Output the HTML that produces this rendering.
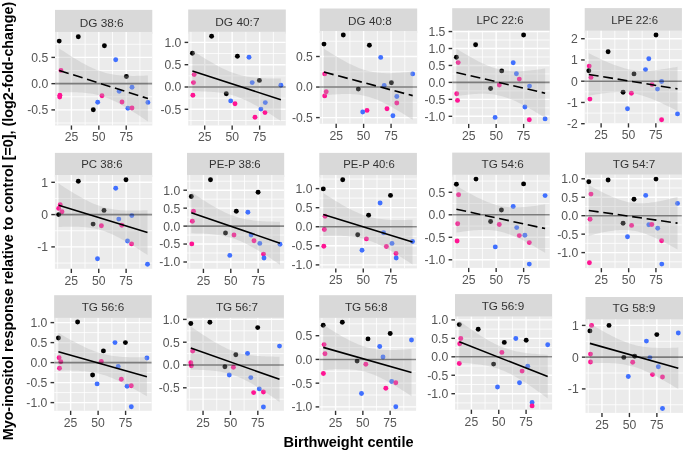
<!DOCTYPE html>
<html><head><meta charset="utf-8"><style>
html,body{margin:0;padding:0;background:#fff;}
body{width:685px;height:451px;overflow:hidden;}
svg{display:block;will-change:transform;}
text{font-family:"Liberation Sans",sans-serif;}
.st{font-size:11.7px;fill:#333333;text-anchor:middle;}
.yl{font-size:12.2px;fill:#555555;text-anchor:end;}
.xl{font-size:12.2px;fill:#555555;text-anchor:middle;}
.xt{font-size:14px;font-weight:bold;fill:#000;text-anchor:middle;}
.yt{font-size:14px;font-weight:bold;fill:#000;text-anchor:middle;}
.gm{stroke:#FFFFFF;stroke-width:0.8;}
.gM{stroke:#FFFFFF;stroke-width:1.4;}
.hl{stroke:#000;stroke-opacity:0.46;stroke-width:1.6;}
.band{fill:#B0B0B0;fill-opacity:0.32;}
.rl{stroke:#000;stroke-width:1.6;fill:none;}
.dash{stroke-dasharray:9.9 4.7;}
.tk{stroke:#333333;stroke-width:1.4;}
</style></head><body>
<svg width="685" height="451" viewBox="0 0 685 451">
<rect width="685" height="451" fill="#FFFFFF"/>
<defs><clipPath id="c0"><rect x="55" y="31.9" width="97.3" height="93.6"/></clipPath></defs>
<rect x="55" y="9.9" width="97.3" height="24" fill="#D9D9D9"/>
<text x="101.7" y="26.6" class="st" textLength="44" lengthAdjust="spacingAndGlyphs">DG 38:6</text>
<rect x="55" y="31.9" width="97.3" height="93.6" fill="#EBEBEB"/>
<g clip-path="url(#c0)">
<line x1="55" x2="152.3" y1="123.03" y2="123.03" class="gm"/>
<line x1="55" x2="152.3" y1="96.78" y2="96.78" class="gm"/>
<line x1="55" x2="152.3" y1="70.53" y2="70.53" class="gm"/>
<line x1="55" x2="152.3" y1="44.27" y2="44.27" class="gm"/>
<line x1="57.74" x2="57.74" y1="31.9" y2="125.5" class="gm"/>
<line x1="85.13" x2="85.13" y1="31.9" y2="125.5" class="gm"/>
<line x1="112.53" x2="112.53" y1="31.9" y2="125.5" class="gm"/>
<line x1="139.92" x2="139.92" y1="31.9" y2="125.5" class="gm"/>
<line x1="55" x2="152.3" y1="57.4" y2="57.4" class="gM"/>
<line x1="55" x2="152.3" y1="83.65" y2="83.65" class="gM"/>
<line x1="55" x2="152.3" y1="109.9" y2="109.9" class="gM"/>
<line x1="71.44" x2="71.44" y1="31.9" y2="125.5" class="gM"/>
<line x1="98.83" x2="98.83" y1="31.9" y2="125.5" class="gM"/>
<line x1="126.22" x2="126.22" y1="31.9" y2="125.5" class="gM"/>
<circle cx="59.2" cy="41.1" r="2.45" fill="#000000"/>
<circle cx="78.3" cy="36.7" r="2.45" fill="#000000"/>
<circle cx="104.4" cy="45.7" r="2.45" fill="#000000"/>
<circle cx="115.7" cy="59.8" r="2.45" fill="#4070FF"/>
<circle cx="61" cy="70.4" r="2.45" fill="#FF1493"/>
<circle cx="126.4" cy="76.5" r="2.45" fill="#000000"/>
<circle cx="132" cy="87.2" r="2.45" fill="#4070FF"/>
<circle cx="119.2" cy="91.3" r="2.45" fill="#4070FF"/>
<circle cx="59.9" cy="95.2" r="2.45" fill="#FF1493"/>
<circle cx="59.7" cy="97" r="2.45" fill="#FF1493"/>
<circle cx="102" cy="95.7" r="2.45" fill="#FF1493"/>
<circle cx="97.7" cy="102.2" r="2.45" fill="#4070FF"/>
<circle cx="122" cy="102" r="2.45" fill="#FF1493"/>
<circle cx="147.9" cy="102.4" r="2.45" fill="#4070FF"/>
<circle cx="93.3" cy="109.8" r="2.45" fill="#000000"/>
<circle cx="127.9" cy="108.3" r="2.45" fill="#4070FF"/>
<circle cx="132" cy="108" r="2.45" fill="#FF1493"/>
<polygon points="59.2,48.4 61.42,49.89 63.64,51.36 65.85,52.81 68.07,54.25 70.29,55.67 72.51,57.07 74.72,58.44 76.94,59.79 79.16,61.1 81.38,62.38 83.59,63.62 85.81,64.82 88.03,65.97 90.25,67.07 92.46,68.11 94.68,69.08 96.9,70 99.12,70.84 101.33,71.61 103.55,72.3 105.77,72.92 107.99,73.47 110.2,73.95 112.42,74.37 114.64,74.72 116.86,75.02 119.07,75.26 121.29,75.46 123.51,75.61 125.73,75.73 127.94,75.81 130.16,75.86 132.38,75.89 134.6,75.89 136.81,75.87 139.03,75.83 141.25,75.77 143.47,75.7 145.68,75.62 147.9,75.52 147.9,121.48 145.68,119.98 143.47,118.49 141.25,117.02 139.03,115.56 136.81,114.12 134.6,112.7 132.38,111.3 130.16,109.92 127.94,108.57 125.73,107.25 123.51,105.97 121.29,104.72 119.07,103.51 116.86,102.36 114.64,101.25 112.42,100.2 110.2,99.21 107.99,98.29 105.77,97.44 103.55,96.66 101.33,95.95 99.12,95.32 96.9,94.76 94.68,94.27 92.46,93.85 90.25,93.48 88.03,93.18 85.81,92.93 83.59,92.72 81.38,92.56 79.16,92.44 76.94,92.35 74.72,92.3 72.51,92.27 70.29,92.26 68.07,92.28 65.85,92.32 63.64,92.37 61.42,92.44 59.2,92.52" class="band"/>
<line x1="55" x2="152.3" y1="83.65" y2="83.65" class="hl"/>
<line x1="59.2" y1="70.46" x2="147.9" y2="98.5" class="rl dash"/>
</g>
<line x1="51.4" x2="55" y1="57.4" y2="57.4" class="tk"/>
<text x="48.2" y="61.8" class="yl">0.5</text>
<line x1="51.4" x2="55" y1="83.65" y2="83.65" class="tk"/>
<text x="48.2" y="88.05" class="yl">0.0</text>
<line x1="51.4" x2="55" y1="109.9" y2="109.9" class="tk"/>
<text x="48.2" y="114.3" class="yl">-0.5</text>
<line x1="71.44" x2="71.44" y1="125.5" y2="129.7" class="tk"/>
<text x="71.44" y="141.4" class="xl">25</text>
<line x1="98.83" x2="98.83" y1="125.5" y2="129.7" class="tk"/>
<text x="98.83" y="141.4" class="xl">50</text>
<line x1="126.22" x2="126.22" y1="125.5" y2="129.7" class="tk"/>
<text x="126.22" y="141.4" class="xl">75</text>
<defs><clipPath id="c1"><rect x="188.2" y="31.7" width="97.6" height="93.8"/></clipPath></defs>
<rect x="188.2" y="9.5" width="97.6" height="24.2" fill="#D9D9D9"/>
<text x="237.4" y="26.2" class="st" textLength="44.2" lengthAdjust="spacingAndGlyphs">DG 40:7</text>
<rect x="188.2" y="31.7" width="97.6" height="93.8" fill="#EBEBEB"/>
<g clip-path="url(#c1)">
<line x1="188.2" x2="285.8" y1="120.45" y2="120.45" class="gm"/>
<line x1="188.2" x2="285.8" y1="98.15" y2="98.15" class="gm"/>
<line x1="188.2" x2="285.8" y1="75.85" y2="75.85" class="gm"/>
<line x1="188.2" x2="285.8" y1="53.55" y2="53.55" class="gm"/>
<line x1="190.95" x2="190.95" y1="31.7" y2="125.5" class="gm"/>
<line x1="218.43" x2="218.43" y1="31.7" y2="125.5" class="gm"/>
<line x1="245.9" x2="245.9" y1="31.7" y2="125.5" class="gm"/>
<line x1="273.38" x2="273.38" y1="31.7" y2="125.5" class="gm"/>
<line x1="188.2" x2="285.8" y1="42.4" y2="42.4" class="gM"/>
<line x1="188.2" x2="285.8" y1="64.7" y2="64.7" class="gM"/>
<line x1="188.2" x2="285.8" y1="87" y2="87" class="gM"/>
<line x1="188.2" x2="285.8" y1="109.3" y2="109.3" class="gM"/>
<line x1="204.69" x2="204.69" y1="31.7" y2="125.5" class="gM"/>
<line x1="232.16" x2="232.16" y1="31.7" y2="125.5" class="gM"/>
<line x1="259.64" x2="259.64" y1="31.7" y2="125.5" class="gM"/>
<circle cx="211.6" cy="36.3" r="2.45" fill="#000000"/>
<circle cx="192.4" cy="53.3" r="2.45" fill="#000000"/>
<circle cx="237.4" cy="56.3" r="2.45" fill="#000000"/>
<circle cx="249" cy="57.2" r="2.45" fill="#4070FF"/>
<circle cx="194.2" cy="74.6" r="2.45" fill="#FF1493"/>
<circle cx="193.5" cy="82.6" r="2.45" fill="#FF1493"/>
<circle cx="259.4" cy="80.4" r="2.45" fill="#000000"/>
<circle cx="252.2" cy="82.6" r="2.45" fill="#4070FF"/>
<circle cx="280.9" cy="85.2" r="2.45" fill="#4070FF"/>
<circle cx="192.9" cy="95.2" r="2.45" fill="#FF1493"/>
<circle cx="226.3" cy="93.7" r="2.45" fill="#000000"/>
<circle cx="230.7" cy="100.9" r="2.45" fill="#4070FF"/>
<circle cx="235" cy="103.7" r="2.45" fill="#FF1493"/>
<circle cx="265.3" cy="102.6" r="2.45" fill="#4070FF"/>
<circle cx="260.9" cy="109.1" r="2.45" fill="#4070FF"/>
<circle cx="265" cy="112.6" r="2.45" fill="#FF1493"/>
<circle cx="255" cy="117.2" r="2.45" fill="#FF1493"/>
<polygon points="192.4,50.44 194.61,51.89 196.83,53.33 199.04,54.75 201.25,56.15 203.46,57.54 205.68,58.91 207.89,60.25 210.1,61.57 212.31,62.86 214.53,64.12 216.74,65.35 218.95,66.53 221.16,67.67 223.38,68.76 225.59,69.79 227.8,70.77 230.01,71.69 232.22,72.54 234.44,73.33 236.65,74.04 238.86,74.69 241.07,75.27 243.29,75.79 245.5,76.25 247.71,76.65 249.92,76.99 252.14,77.29 254.35,77.55 256.56,77.76 258.77,77.94 260.99,78.09 263.2,78.21 265.41,78.3 267.62,78.38 269.84,78.43 272.05,78.46 274.26,78.48 276.47,78.49 278.69,78.48 280.9,78.47 280.9,121.04 278.69,119.58 276.47,118.13 274.26,116.69 272.05,115.27 269.84,113.86 267.62,112.47 265.41,111.1 263.2,109.75 260.99,108.43 258.77,107.13 256.56,105.87 254.35,104.64 252.14,103.45 249.92,102.31 247.71,101.21 245.5,100.17 243.29,99.18 241.07,98.25 238.86,97.39 236.65,96.6 234.44,95.87 232.22,95.22 230.01,94.62 227.8,94.1 225.59,93.63 223.38,93.23 221.16,92.87 218.95,92.57 216.74,92.31 214.53,92.09 212.31,91.91 210.1,91.75 207.89,91.63 205.68,91.53 203.46,91.46 201.25,91.4 199.04,91.36 196.83,91.34 194.61,91.33 192.4,91.34" class="band"/>
<line x1="188.2" x2="285.8" y1="87" y2="87" class="hl"/>
<line x1="192.4" y1="70.89" x2="280.9" y2="99.75" class="rl"/>
</g>
<line x1="184.6" x2="188.2" y1="42.4" y2="42.4" class="tk"/>
<text x="181.4" y="46.8" class="yl">1.0</text>
<line x1="184.6" x2="188.2" y1="64.7" y2="64.7" class="tk"/>
<text x="181.4" y="69.1" class="yl">0.5</text>
<line x1="184.6" x2="188.2" y1="87" y2="87" class="tk"/>
<text x="181.4" y="91.4" class="yl">0.0</text>
<line x1="184.6" x2="188.2" y1="109.3" y2="109.3" class="tk"/>
<text x="181.4" y="113.7" class="yl">-0.5</text>
<line x1="204.69" x2="204.69" y1="125.5" y2="129.7" class="tk"/>
<text x="204.69" y="141.4" class="xl">25</text>
<line x1="232.16" x2="232.16" y1="125.5" y2="129.7" class="tk"/>
<text x="232.16" y="141.4" class="xl">50</text>
<line x1="259.64" x2="259.64" y1="125.5" y2="129.7" class="tk"/>
<text x="259.64" y="141.4" class="xl">75</text>
<defs><clipPath id="c2"><rect x="319.7" y="31" width="97.5" height="92.8"/></clipPath></defs>
<rect x="319.7" y="8.5" width="97.5" height="24.5" fill="#D9D9D9"/>
<text x="370" y="24.7" class="st" textLength="43.8" lengthAdjust="spacingAndGlyphs">DG 40:8</text>
<rect x="319.7" y="31" width="97.5" height="92.8" fill="#EBEBEB"/>
<g clip-path="url(#c2)">
<line x1="319.7" x2="417.2" y1="102.32" y2="102.32" class="gm"/>
<line x1="319.7" x2="417.2" y1="71.78" y2="71.78" class="gm"/>
<line x1="319.7" x2="417.2" y1="41.23" y2="41.23" class="gm"/>
<line x1="322.44" x2="322.44" y1="31" y2="123.8" class="gm"/>
<line x1="349.89" x2="349.89" y1="31" y2="123.8" class="gm"/>
<line x1="377.34" x2="377.34" y1="31" y2="123.8" class="gm"/>
<line x1="404.79" x2="404.79" y1="31" y2="123.8" class="gm"/>
<line x1="319.7" x2="417.2" y1="56.5" y2="56.5" class="gM"/>
<line x1="319.7" x2="417.2" y1="87.05" y2="87.05" class="gM"/>
<line x1="319.7" x2="417.2" y1="117.6" y2="117.6" class="gM"/>
<line x1="336.17" x2="336.17" y1="31" y2="123.8" class="gM"/>
<line x1="363.62" x2="363.62" y1="31" y2="123.8" class="gM"/>
<line x1="391.07" x2="391.07" y1="31" y2="123.8" class="gM"/>
<circle cx="324" cy="44.1" r="2.45" fill="#000000"/>
<circle cx="343.3" cy="35" r="2.45" fill="#000000"/>
<circle cx="369.4" cy="45.2" r="2.45" fill="#000000"/>
<circle cx="380.7" cy="57.4" r="2.45" fill="#4070FF"/>
<circle cx="324.7" cy="73.9" r="2.45" fill="#FF1493"/>
<circle cx="412.7" cy="73.9" r="2.45" fill="#4070FF"/>
<circle cx="391.4" cy="82.8" r="2.45" fill="#000000"/>
<circle cx="384.2" cy="85.4" r="2.45" fill="#4070FF"/>
<circle cx="358.3" cy="89.1" r="2.45" fill="#000000"/>
<circle cx="326.2" cy="91.7" r="2.45" fill="#FF1493"/>
<circle cx="324.7" cy="95.9" r="2.45" fill="#FF1493"/>
<circle cx="396.8" cy="96.5" r="2.45" fill="#4070FF"/>
<circle cx="396.8" cy="103" r="2.45" fill="#FF1493"/>
<circle cx="387" cy="108.7" r="2.45" fill="#FF1493"/>
<circle cx="367" cy="110.4" r="2.45" fill="#FF1493"/>
<circle cx="362.7" cy="112" r="2.45" fill="#4070FF"/>
<circle cx="392.9" cy="115.7" r="2.45" fill="#4070FF"/>
<polygon points="324,48.72 326.22,50.14 328.44,51.54 330.65,52.93 332.87,54.3 335.09,55.65 337.31,56.98 339.52,58.28 341.74,59.55 343.96,60.79 346.18,61.99 348.39,63.16 350.61,64.28 352.83,65.34 355.05,66.36 357.26,67.31 359.48,68.19 361.7,69.01 363.92,69.75 366.13,70.42 368.35,71 370.57,71.51 372.78,71.95 375,72.31 377.22,72.6 379.44,72.82 381.65,72.98 383.87,73.09 386.09,73.15 388.31,73.16 390.52,73.14 392.74,73.07 394.96,72.98 397.18,72.85 399.39,72.7 401.61,72.53 403.83,72.34 406.05,72.13 408.26,71.9 410.48,71.66 412.7,71.4 412.7,119.87 410.48,118.44 408.26,117.02 406.05,115.62 403.83,114.23 401.61,112.86 399.39,111.51 397.18,110.18 394.96,108.88 392.74,107.61 390.52,106.37 388.31,105.17 386.09,104 383.87,102.88 381.65,101.81 379.44,100.8 377.22,99.85 375,98.96 372.78,98.15 370.57,97.4 368.35,96.74 366.13,96.15 363.92,95.64 361.7,95.2 359.48,94.84 357.26,94.55 355.05,94.32 352.83,94.16 350.61,94.05 348.39,93.99 346.18,93.98 343.96,94 341.74,94.07 339.52,94.16 337.31,94.29 335.09,94.44 332.87,94.61 330.65,94.8 328.44,95.01 326.22,95.24 324,95.48" class="band"/>
<line x1="319.7" x2="417.2" y1="87.05" y2="87.05" class="hl"/>
<line x1="324" y1="72.1" x2="412.7" y2="95.64" class="rl dash"/>
</g>
<line x1="316.1" x2="319.7" y1="56.5" y2="56.5" class="tk"/>
<text x="312.9" y="60.9" class="yl">0.5</text>
<line x1="316.1" x2="319.7" y1="87.05" y2="87.05" class="tk"/>
<text x="312.9" y="91.45" class="yl">0.0</text>
<line x1="316.1" x2="319.7" y1="117.6" y2="117.6" class="tk"/>
<text x="312.9" y="122" class="yl">-0.5</text>
<line x1="336.17" x2="336.17" y1="123.8" y2="128" class="tk"/>
<text x="336.17" y="139.7" class="xl">25</text>
<line x1="363.62" x2="363.62" y1="123.8" y2="128" class="tk"/>
<text x="363.62" y="139.7" class="xl">50</text>
<line x1="391.07" x2="391.07" y1="123.8" y2="128" class="tk"/>
<text x="391.07" y="139.7" class="xl">75</text>
<defs><clipPath id="c3"><rect x="452.2" y="30.6" width="97.6" height="93.3"/></clipPath></defs>
<rect x="452.2" y="8.2" width="97.6" height="24.4" fill="#D9D9D9"/>
<text x="500" y="24.3" class="st" textLength="47" lengthAdjust="spacingAndGlyphs">LPC 22:6</text>
<rect x="452.2" y="30.6" width="97.6" height="93.3" fill="#EBEBEB"/>
<g clip-path="url(#c3)">
<line x1="452.2" x2="549.8" y1="107.82" y2="107.82" class="gm"/>
<line x1="452.2" x2="549.8" y1="90.88" y2="90.88" class="gm"/>
<line x1="452.2" x2="549.8" y1="73.92" y2="73.92" class="gm"/>
<line x1="452.2" x2="549.8" y1="56.98" y2="56.98" class="gm"/>
<line x1="452.2" x2="549.8" y1="40.02" y2="40.02" class="gm"/>
<line x1="454.95" x2="454.95" y1="30.6" y2="123.9" class="gm"/>
<line x1="482.43" x2="482.43" y1="30.6" y2="123.9" class="gm"/>
<line x1="509.9" x2="509.9" y1="30.6" y2="123.9" class="gm"/>
<line x1="537.38" x2="537.38" y1="30.6" y2="123.9" class="gm"/>
<line x1="452.2" x2="549.8" y1="31.55" y2="31.55" class="gM"/>
<line x1="452.2" x2="549.8" y1="48.5" y2="48.5" class="gM"/>
<line x1="452.2" x2="549.8" y1="65.45" y2="65.45" class="gM"/>
<line x1="452.2" x2="549.8" y1="82.4" y2="82.4" class="gM"/>
<line x1="452.2" x2="549.8" y1="99.35" y2="99.35" class="gM"/>
<line x1="452.2" x2="549.8" y1="116.3" y2="116.3" class="gM"/>
<line x1="468.69" x2="468.69" y1="30.6" y2="123.9" class="gM"/>
<line x1="496.16" x2="496.16" y1="30.6" y2="123.9" class="gM"/>
<line x1="523.64" x2="523.64" y1="30.6" y2="123.9" class="gM"/>
<circle cx="523.6" cy="35" r="2.45" fill="#000000"/>
<circle cx="475.6" cy="44.8" r="2.45" fill="#000000"/>
<circle cx="456.4" cy="57.2" r="2.45" fill="#000000"/>
<circle cx="458.2" cy="62.6" r="2.45" fill="#FF1493"/>
<circle cx="513.2" cy="62.8" r="2.45" fill="#4070FF"/>
<circle cx="501.7" cy="70.9" r="2.45" fill="#000000"/>
<circle cx="516.4" cy="73.7" r="2.45" fill="#4070FF"/>
<circle cx="519.3" cy="79.1" r="2.45" fill="#FF1493"/>
<circle cx="499.3" cy="85" r="2.45" fill="#FF1493"/>
<circle cx="529.5" cy="86.1" r="2.45" fill="#4070FF"/>
<circle cx="490.6" cy="88.5" r="2.45" fill="#000000"/>
<circle cx="456.7" cy="93.7" r="2.45" fill="#FF1493"/>
<circle cx="457.5" cy="100.4" r="2.45" fill="#FF1493"/>
<circle cx="524.9" cy="107" r="2.45" fill="#4070FF"/>
<circle cx="495.1" cy="117.4" r="2.45" fill="#4070FF"/>
<circle cx="529.3" cy="119.8" r="2.45" fill="#FF1493"/>
<circle cx="545.1" cy="118.9" r="2.45" fill="#4070FF"/>
<polygon points="456.4,48.7 458.62,50.06 460.83,51.41 463.05,52.74 465.27,54.05 467.49,55.34 469.7,56.61 471.92,57.85 474.14,59.06 476.36,60.24 478.57,61.38 480.79,62.48 483.01,63.53 485.23,64.54 487.44,65.48 489.66,66.37 491.88,67.18 494.1,67.93 496.31,68.6 498.53,69.2 500.75,69.71 502.97,70.15 505.19,70.5 507.4,70.79 509.62,71 511.84,71.15 514.06,71.23 516.27,71.26 518.49,71.24 520.71,71.17 522.92,71.06 525.14,70.91 527.36,70.73 529.58,70.53 531.8,70.29 534.01,70.04 536.23,69.76 538.45,69.46 540.66,69.15 542.88,68.83 545.1,68.49 545.1,117.83 542.88,116.45 540.66,115.09 538.45,113.74 536.23,112.41 534.01,111.1 531.8,109.81 529.58,108.54 527.36,107.3 525.14,106.08 522.92,104.9 520.71,103.76 518.49,102.65 516.27,101.6 514.06,100.59 511.84,99.64 509.62,98.75 507.4,97.93 505.19,97.17 502.97,96.5 500.75,95.9 498.53,95.38 496.31,94.93 494.1,94.57 491.88,94.28 489.66,94.06 487.44,93.91 485.23,93.82 483.01,93.79 480.79,93.81 478.57,93.87 476.36,93.98 474.14,94.12 471.92,94.3 469.7,94.5 467.49,94.73 465.27,94.99 463.05,95.26 460.83,95.56 458.62,95.87 456.4,96.19" class="band"/>
<line x1="452.2" x2="549.8" y1="82.4" y2="82.4" class="hl"/>
<line x1="456.4" y1="72.45" x2="545.1" y2="93.16" class="rl dash"/>
</g>
<line x1="448.6" x2="452.2" y1="31.55" y2="31.55" class="tk"/>
<text x="445.4" y="35.95" class="yl">1.5</text>
<line x1="448.6" x2="452.2" y1="48.5" y2="48.5" class="tk"/>
<text x="445.4" y="52.9" class="yl">1.0</text>
<line x1="448.6" x2="452.2" y1="65.45" y2="65.45" class="tk"/>
<text x="445.4" y="69.85" class="yl">0.5</text>
<line x1="448.6" x2="452.2" y1="82.4" y2="82.4" class="tk"/>
<text x="445.4" y="86.8" class="yl">0.0</text>
<line x1="448.6" x2="452.2" y1="99.35" y2="99.35" class="tk"/>
<text x="445.4" y="103.75" class="yl">-0.5</text>
<line x1="448.6" x2="452.2" y1="116.3" y2="116.3" class="tk"/>
<text x="445.4" y="120.7" class="yl">-1.0</text>
<line x1="468.69" x2="468.69" y1="123.9" y2="128.1" class="tk"/>
<text x="468.69" y="139.8" class="xl">25</text>
<line x1="496.16" x2="496.16" y1="123.9" y2="128.1" class="tk"/>
<text x="496.16" y="139.8" class="xl">50</text>
<line x1="523.64" x2="523.64" y1="123.9" y2="128.1" class="tk"/>
<text x="523.64" y="139.8" class="xl">75</text>
<defs><clipPath id="c4"><rect x="584.7" y="30.6" width="97.2" height="92.7"/></clipPath></defs>
<rect x="584.7" y="8.1" width="97.2" height="24.5" fill="#D9D9D9"/>
<text x="634.6" y="24.3" class="st" textLength="46.7" lengthAdjust="spacingAndGlyphs">LPE 22:6</text>
<rect x="584.7" y="30.6" width="97.2" height="92.7" fill="#EBEBEB"/>
<g clip-path="url(#c4)">
<line x1="584.7" x2="681.9" y1="113.08" y2="113.08" class="gm"/>
<line x1="584.7" x2="681.9" y1="91.83" y2="91.83" class="gm"/>
<line x1="584.7" x2="681.9" y1="70.58" y2="70.58" class="gm"/>
<line x1="584.7" x2="681.9" y1="49.33" y2="49.33" class="gm"/>
<line x1="587.44" x2="587.44" y1="30.6" y2="123.3" class="gm"/>
<line x1="614.8" x2="614.8" y1="30.6" y2="123.3" class="gm"/>
<line x1="642.17" x2="642.17" y1="30.6" y2="123.3" class="gm"/>
<line x1="669.53" x2="669.53" y1="30.6" y2="123.3" class="gm"/>
<line x1="584.7" x2="681.9" y1="38.7" y2="38.7" class="gM"/>
<line x1="584.7" x2="681.9" y1="59.95" y2="59.95" class="gM"/>
<line x1="584.7" x2="681.9" y1="81.2" y2="81.2" class="gM"/>
<line x1="584.7" x2="681.9" y1="102.45" y2="102.45" class="gM"/>
<line x1="584.7" x2="681.9" y1="123.7" y2="123.7" class="gM"/>
<line x1="601.12" x2="601.12" y1="30.6" y2="123.3" class="gM"/>
<line x1="628.48" x2="628.48" y1="30.6" y2="123.3" class="gM"/>
<line x1="655.85" x2="655.85" y1="30.6" y2="123.3" class="gM"/>
<circle cx="656" cy="35" r="2.45" fill="#000000"/>
<circle cx="608.1" cy="51.7" r="2.45" fill="#000000"/>
<circle cx="648.8" cy="58.7" r="2.45" fill="#4070FF"/>
<circle cx="589.2" cy="66.1" r="2.45" fill="#FF1493"/>
<circle cx="645.5" cy="69.6" r="2.45" fill="#4070FF"/>
<circle cx="588.8" cy="70.7" r="2.45" fill="#000000"/>
<circle cx="634" cy="73.9" r="2.45" fill="#000000"/>
<circle cx="591" cy="77.4" r="2.45" fill="#FF1493"/>
<circle cx="661.6" cy="81.5" r="2.45" fill="#4070FF"/>
<circle cx="652" cy="84.6" r="2.45" fill="#FF1493"/>
<circle cx="657.5" cy="89.1" r="2.45" fill="#4070FF"/>
<circle cx="623.1" cy="92.2" r="2.45" fill="#000000"/>
<circle cx="631.4" cy="93.3" r="2.45" fill="#FF1493"/>
<circle cx="589.9" cy="99.1" r="2.45" fill="#FF1493"/>
<circle cx="627.5" cy="108.7" r="2.45" fill="#4070FF"/>
<circle cx="677.5" cy="113.9" r="2.45" fill="#4070FF"/>
<circle cx="661.6" cy="119.8" r="2.45" fill="#FF1493"/>
<polygon points="588.8,53.24 591.02,54.36 593.23,55.46 595.45,56.54 597.67,57.61 599.89,58.67 602.11,59.7 604.32,60.7 606.54,61.69 608.76,62.64 610.97,63.56 613.19,64.44 615.41,65.28 617.63,66.07 619.85,66.82 622.06,67.51 624.28,68.14 626.5,68.7 628.71,69.2 630.93,69.63 633.15,69.99 635.37,70.27 637.59,70.49 639.8,70.64 642.02,70.73 644.24,70.75 646.45,70.73 648.67,70.65 650.89,70.52 653.11,70.36 655.33,70.16 657.54,69.92 659.76,69.66 661.98,69.37 664.19,69.06 666.41,68.72 668.63,68.37 670.85,68 673.07,67.62 675.28,67.22 677.5,66.81 677.5,110.94 675.28,109.81 673.07,108.69 670.85,107.59 668.63,106.5 666.41,105.43 664.19,104.38 661.98,103.34 659.76,102.34 657.54,101.35 655.33,100.4 653.11,99.48 650.89,98.59 648.67,97.75 646.45,96.95 644.24,96.2 642.02,95.51 639.8,94.88 637.59,94.31 635.37,93.81 633.15,93.37 630.93,93.01 628.71,92.72 626.5,92.5 624.28,92.34 622.06,92.25 619.85,92.22 617.63,92.25 615.41,92.32 613.19,92.44 610.97,92.61 608.76,92.81 606.54,93.04 604.32,93.3 602.11,93.59 599.89,93.9 597.67,94.23 595.45,94.58 593.23,94.95 591.02,95.33 588.8,95.73" class="band"/>
<line x1="584.7" x2="681.9" y1="81.2" y2="81.2" class="hl"/>
<line x1="588.8" y1="74.48" x2="677.5" y2="88.87" class="rl dash"/>
</g>
<line x1="581.1" x2="584.7" y1="38.7" y2="38.7" class="tk"/>
<text x="577.9" y="43.1" class="yl">2</text>
<line x1="581.1" x2="584.7" y1="59.95" y2="59.95" class="tk"/>
<text x="577.9" y="64.35" class="yl">1</text>
<line x1="581.1" x2="584.7" y1="81.2" y2="81.2" class="tk"/>
<text x="577.9" y="85.6" class="yl">0</text>
<line x1="581.1" x2="584.7" y1="102.45" y2="102.45" class="tk"/>
<text x="577.9" y="106.85" class="yl">-1</text>
<line x1="581.1" x2="584.7" y1="123.7" y2="123.7" class="tk"/>
<text x="577.9" y="128.1" class="yl">-2</text>
<line x1="601.12" x2="601.12" y1="123.3" y2="127.5" class="tk"/>
<text x="601.12" y="139.2" class="xl">25</text>
<line x1="628.48" x2="628.48" y1="123.3" y2="127.5" class="tk"/>
<text x="628.48" y="139.2" class="xl">50</text>
<line x1="655.85" x2="655.85" y1="123.3" y2="127.5" class="tk"/>
<text x="655.85" y="139.2" class="xl">75</text>
<defs><clipPath id="c5"><rect x="54.9" y="175" width="97.3" height="93.8"/></clipPath></defs>
<rect x="54.9" y="152.9" width="97.3" height="24.1" fill="#D9D9D9"/>
<text x="101.9" y="168.4" class="st" textLength="41.3" lengthAdjust="spacingAndGlyphs">PC 38:6</text>
<rect x="54.9" y="175" width="97.3" height="93.8" fill="#EBEBEB"/>
<g clip-path="url(#c5)">
<line x1="54.9" x2="152.2" y1="263.05" y2="263.05" class="gm"/>
<line x1="54.9" x2="152.2" y1="230.75" y2="230.75" class="gm"/>
<line x1="54.9" x2="152.2" y1="198.45" y2="198.45" class="gm"/>
<line x1="57.64" x2="57.64" y1="175" y2="268.8" class="gm"/>
<line x1="85.03" x2="85.03" y1="175" y2="268.8" class="gm"/>
<line x1="112.43" x2="112.43" y1="175" y2="268.8" class="gm"/>
<line x1="139.82" x2="139.82" y1="175" y2="268.8" class="gm"/>
<line x1="54.9" x2="152.2" y1="182.3" y2="182.3" class="gM"/>
<line x1="54.9" x2="152.2" y1="214.6" y2="214.6" class="gM"/>
<line x1="54.9" x2="152.2" y1="246.9" y2="246.9" class="gM"/>
<line x1="71.34" x2="71.34" y1="175" y2="268.8" class="gM"/>
<line x1="98.73" x2="98.73" y1="175" y2="268.8" class="gM"/>
<line x1="126.12" x2="126.12" y1="175" y2="268.8" class="gM"/>
<circle cx="78.3" cy="181.3" r="2.45" fill="#000000"/>
<circle cx="126" cy="179.7" r="2.45" fill="#000000"/>
<circle cx="115.7" cy="188.2" r="2.45" fill="#4070FF"/>
<circle cx="60.2" cy="204.7" r="2.45" fill="#FF1493"/>
<circle cx="58.7" cy="208.4" r="2.45" fill="#FF1493"/>
<circle cx="62" cy="211.7" r="2.45" fill="#FF1493"/>
<circle cx="58.7" cy="214.6" r="2.45" fill="#000000"/>
<circle cx="104" cy="210.4" r="2.45" fill="#000000"/>
<circle cx="131.8" cy="215.6" r="2.45" fill="#4070FF"/>
<circle cx="118.8" cy="219.1" r="2.45" fill="#4070FF"/>
<circle cx="93.1" cy="224.1" r="2.45" fill="#000000"/>
<circle cx="101.4" cy="225.8" r="2.45" fill="#FF1493"/>
<circle cx="121.8" cy="225.2" r="2.45" fill="#FF1493"/>
<circle cx="127.5" cy="241" r="2.45" fill="#4070FF"/>
<circle cx="131.6" cy="243.9" r="2.45" fill="#FF1493"/>
<circle cx="97.5" cy="258.7" r="2.45" fill="#4070FF"/>
<circle cx="147.5" cy="264.3" r="2.45" fill="#4070FF"/>
<polygon points="58.7,183.61 60.92,185.06 63.14,186.5 65.36,187.93 67.58,189.34 69.8,190.73 72.02,192.1 74.24,193.44 76.46,194.76 78.68,196.05 80.9,197.31 83.12,198.53 85.34,199.7 87.56,200.83 89.78,201.91 92,202.93 94.22,203.9 96.44,204.79 98.66,205.62 100.88,206.37 103.1,207.06 105.32,207.67 107.54,208.21 109.76,208.68 111.98,209.09 114.2,209.43 116.42,209.72 118.64,209.96 120.86,210.14 123.08,210.29 125.3,210.4 127.52,210.48 129.74,210.52 131.96,210.54 134.18,210.54 136.4,210.51 138.62,210.47 140.84,210.41 143.06,210.33 145.28,210.24 147.5,210.14 147.5,255.06 145.28,253.59 143.06,252.14 140.84,250.7 138.62,249.27 136.4,247.86 134.18,246.47 131.96,245.1 129.74,243.76 127.52,242.44 125.3,241.15 123.08,239.9 120.86,238.68 118.64,237.51 116.42,236.38 114.2,235.3 111.98,234.28 109.76,233.33 107.54,232.43 105.32,231.61 103.1,230.85 100.88,230.17 98.66,229.57 96.44,229.03 94.22,228.56 92,228.16 89.78,227.82 87.56,227.53 85.34,227.3 83.12,227.11 80.9,226.96 78.68,226.85 76.46,226.78 74.24,226.73 72.02,226.72 69.8,226.72 67.58,226.75 65.36,226.79 63.14,226.85 60.92,226.93 58.7,227.02" class="band"/>
<line x1="54.9" x2="152.2" y1="214.6" y2="214.6" class="hl"/>
<line x1="58.7" y1="205.31" x2="147.5" y2="232.6" class="rl"/>
</g>
<line x1="51.3" x2="54.9" y1="182.3" y2="182.3" class="tk"/>
<text x="48.1" y="186.7" class="yl">1</text>
<line x1="51.3" x2="54.9" y1="214.6" y2="214.6" class="tk"/>
<text x="48.1" y="219" class="yl">0</text>
<line x1="51.3" x2="54.9" y1="246.9" y2="246.9" class="tk"/>
<text x="48.1" y="251.3" class="yl">-1</text>
<line x1="71.34" x2="71.34" y1="268.8" y2="273" class="tk"/>
<text x="71.34" y="284.7" class="xl">25</text>
<line x1="98.73" x2="98.73" y1="268.8" y2="273" class="tk"/>
<text x="98.73" y="284.7" class="xl">50</text>
<line x1="126.12" x2="126.12" y1="268.8" y2="273" class="tk"/>
<text x="126.12" y="284.7" class="xl">75</text>
<defs><clipPath id="c6"><rect x="187" y="174.9" width="97.2" height="93.9"/></clipPath></defs>
<rect x="187" y="152.9" width="97.2" height="24" fill="#D9D9D9"/>
<text x="234.9" y="168.1" class="st" textLength="51.6" lengthAdjust="spacingAndGlyphs">PE-P 38:6</text>
<rect x="187" y="174.9" width="97.2" height="93.9" fill="#EBEBEB"/>
<g clip-path="url(#c6)">
<line x1="187" x2="284.2" y1="253.03" y2="253.03" class="gm"/>
<line x1="187" x2="284.2" y1="235.07" y2="235.07" class="gm"/>
<line x1="187" x2="284.2" y1="217.12" y2="217.12" class="gm"/>
<line x1="187" x2="284.2" y1="199.17" y2="199.17" class="gm"/>
<line x1="187" x2="284.2" y1="181.22" y2="181.22" class="gm"/>
<line x1="189.74" x2="189.74" y1="174.9" y2="268.8" class="gm"/>
<line x1="217.1" x2="217.1" y1="174.9" y2="268.8" class="gm"/>
<line x1="244.47" x2="244.47" y1="174.9" y2="268.8" class="gm"/>
<line x1="271.83" x2="271.83" y1="174.9" y2="268.8" class="gm"/>
<line x1="187" x2="284.2" y1="190.2" y2="190.2" class="gM"/>
<line x1="187" x2="284.2" y1="208.15" y2="208.15" class="gM"/>
<line x1="187" x2="284.2" y1="226.1" y2="226.1" class="gM"/>
<line x1="187" x2="284.2" y1="244.05" y2="244.05" class="gM"/>
<line x1="187" x2="284.2" y1="262" y2="262" class="gM"/>
<line x1="203.42" x2="203.42" y1="174.9" y2="268.8" class="gM"/>
<line x1="230.78" x2="230.78" y1="174.9" y2="268.8" class="gM"/>
<line x1="258.15" x2="258.15" y1="174.9" y2="268.8" class="gM"/>
<circle cx="210.5" cy="179.7" r="2.45" fill="#000000"/>
<circle cx="191.3" cy="196.5" r="2.45" fill="#000000"/>
<circle cx="258.1" cy="192.3" r="2.45" fill="#000000"/>
<circle cx="193.5" cy="211.3" r="2.45" fill="#FF1493"/>
<circle cx="236.3" cy="211.3" r="2.45" fill="#000000"/>
<circle cx="247.9" cy="212.3" r="2.45" fill="#4070FF"/>
<circle cx="192.4" cy="221.3" r="2.45" fill="#FF1493"/>
<circle cx="225.5" cy="233" r="2.45" fill="#000000"/>
<circle cx="234" cy="235" r="2.45" fill="#FF1493"/>
<circle cx="251.1" cy="235" r="2.45" fill="#4070FF"/>
<circle cx="254" cy="240.8" r="2.45" fill="#FF1493"/>
<circle cx="259.8" cy="243.4" r="2.45" fill="#4070FF"/>
<circle cx="280" cy="244.3" r="2.45" fill="#4070FF"/>
<circle cx="191.8" cy="243.9" r="2.45" fill="#FF1493"/>
<circle cx="263.5" cy="254.1" r="2.45" fill="#FF1493"/>
<circle cx="264" cy="258" r="2.45" fill="#4070FF"/>
<circle cx="229.8" cy="255.4" r="2.45" fill="#4070FF"/>
<polygon points="191.3,192.12 193.52,193.62 195.74,195.1 197.95,196.57 200.17,198.02 202.39,199.46 204.61,200.87 206.82,202.27 209.04,203.63 211.26,204.97 213.48,206.27 215.69,207.54 217.91,208.77 220.13,209.95 222.34,211.09 224.56,212.17 226.78,213.19 229,214.15 231.22,215.04 233.43,215.86 235.65,216.62 237.87,217.3 240.09,217.92 242.3,218.47 244.52,218.97 246.74,219.4 248.96,219.78 251.17,220.11 253.39,220.4 255.61,220.64 257.82,220.86 260.04,221.04 262.26,221.19 264.48,221.31 266.69,221.42 268.91,221.5 271.13,221.57 273.35,221.62 275.56,221.66 277.78,221.68 280,221.7 280,264.7 277.78,263.19 275.56,261.69 273.35,260.2 271.13,258.73 268.91,257.27 266.69,255.83 264.48,254.41 262.26,253.02 260.04,251.65 257.82,250.3 255.61,248.99 253.39,247.71 251.17,246.48 248.96,245.29 246.74,244.14 244.52,243.05 242.3,242.02 240.09,241.05 237.87,240.14 235.65,239.31 233.43,238.54 231.22,237.84 229,237.21 226.78,236.64 224.56,236.14 222.34,235.69 220.13,235.3 217.91,234.96 215.69,234.67 213.48,234.41 211.26,234.2 209.04,234.01 206.82,233.85 204.61,233.72 202.39,233.61 200.17,233.52 197.95,233.45 195.74,233.4 193.52,233.36 191.3,233.33" class="band"/>
<line x1="187" x2="284.2" y1="226.1" y2="226.1" class="hl"/>
<line x1="191.3" y1="212.73" x2="280" y2="243.2" class="rl"/>
</g>
<line x1="183.4" x2="187" y1="190.2" y2="190.2" class="tk"/>
<text x="180.2" y="194.6" class="yl">1.0</text>
<line x1="183.4" x2="187" y1="208.15" y2="208.15" class="tk"/>
<text x="180.2" y="212.55" class="yl">0.5</text>
<line x1="183.4" x2="187" y1="226.1" y2="226.1" class="tk"/>
<text x="180.2" y="230.5" class="yl">0.0</text>
<line x1="183.4" x2="187" y1="244.05" y2="244.05" class="tk"/>
<text x="180.2" y="248.45" class="yl">-0.5</text>
<line x1="183.4" x2="187" y1="262" y2="262" class="tk"/>
<text x="180.2" y="266.4" class="yl">-1.0</text>
<line x1="203.42" x2="203.42" y1="268.8" y2="273" class="tk"/>
<text x="203.42" y="284.7" class="xl">25</text>
<line x1="230.78" x2="230.78" y1="268.8" y2="273" class="tk"/>
<text x="230.78" y="284.7" class="xl">50</text>
<line x1="258.15" x2="258.15" y1="268.8" y2="273" class="tk"/>
<text x="258.15" y="284.7" class="xl">75</text>
<defs><clipPath id="c7"><rect x="319.3" y="174.9" width="97.6" height="93.5"/></clipPath></defs>
<rect x="319.3" y="152.9" width="97.6" height="24" fill="#D9D9D9"/>
<text x="369" y="168.1" class="st" textLength="51.4" lengthAdjust="spacingAndGlyphs">PE-P 40:6</text>
<rect x="319.3" y="174.9" width="97.6" height="93.5" fill="#EBEBEB"/>
<g clip-path="url(#c7)">
<line x1="319.3" x2="416.9" y1="255.36" y2="255.36" class="gm"/>
<line x1="319.3" x2="416.9" y1="236.29" y2="236.29" class="gm"/>
<line x1="319.3" x2="416.9" y1="217.21" y2="217.21" class="gm"/>
<line x1="319.3" x2="416.9" y1="198.14" y2="198.14" class="gm"/>
<line x1="319.3" x2="416.9" y1="179.06" y2="179.06" class="gm"/>
<line x1="322.05" x2="322.05" y1="174.9" y2="268.4" class="gm"/>
<line x1="349.53" x2="349.53" y1="174.9" y2="268.4" class="gm"/>
<line x1="377" x2="377" y1="174.9" y2="268.4" class="gm"/>
<line x1="404.48" x2="404.48" y1="174.9" y2="268.4" class="gm"/>
<line x1="319.3" x2="416.9" y1="188.6" y2="188.6" class="gM"/>
<line x1="319.3" x2="416.9" y1="207.67" y2="207.67" class="gM"/>
<line x1="319.3" x2="416.9" y1="226.75" y2="226.75" class="gM"/>
<line x1="319.3" x2="416.9" y1="245.82" y2="245.82" class="gM"/>
<line x1="319.3" x2="416.9" y1="264.9" y2="264.9" class="gM"/>
<line x1="335.79" x2="335.79" y1="174.9" y2="268.4" class="gM"/>
<line x1="363.26" x2="363.26" y1="174.9" y2="268.4" class="gM"/>
<line x1="390.74" x2="390.74" y1="174.9" y2="268.4" class="gM"/>
<circle cx="342.7" cy="179.7" r="2.45" fill="#000000"/>
<circle cx="323.3" cy="188.9" r="2.45" fill="#000000"/>
<circle cx="390.5" cy="195.4" r="2.45" fill="#000000"/>
<circle cx="380.1" cy="203" r="2.45" fill="#4070FF"/>
<circle cx="368.6" cy="215.2" r="2.45" fill="#000000"/>
<circle cx="325.1" cy="216.3" r="2.45" fill="#FF1493"/>
<circle cx="324.4" cy="229.5" r="2.45" fill="#FF1493"/>
<circle cx="383.6" cy="232.8" r="2.45" fill="#4070FF"/>
<circle cx="357.7" cy="234.7" r="2.45" fill="#000000"/>
<circle cx="366.4" cy="238.9" r="2.45" fill="#FF1493"/>
<circle cx="412.5" cy="241.5" r="2.45" fill="#4070FF"/>
<circle cx="392" cy="243.4" r="2.45" fill="#4070FF"/>
<circle cx="386.4" cy="246.5" r="2.45" fill="#FF1493"/>
<circle cx="323.8" cy="246.3" r="2.45" fill="#FF1493"/>
<circle cx="362" cy="250.2" r="2.45" fill="#4070FF"/>
<circle cx="396" cy="253.4" r="2.45" fill="#FF1493"/>
<circle cx="396.2" cy="258" r="2.45" fill="#4070FF"/>
<polygon points="323.3,193 325.53,194.45 327.76,195.9 329.99,197.32 332.22,198.73 334.45,200.13 336.68,201.5 338.91,202.84 341.14,204.16 343.37,205.45 345.6,206.71 347.83,207.93 350.06,209.1 352.29,210.23 354.52,211.31 356.75,212.33 358.98,213.29 361.21,214.18 363.44,215.01 365.67,215.76 367.9,216.45 370.13,217.06 372.36,217.6 374.59,218.07 376.82,218.47 379.05,218.82 381.28,219.11 383.51,219.35 385.74,219.55 387.97,219.7 390.2,219.82 392.43,219.9 394.66,219.96 396.89,219.98 399.12,219.99 401.35,219.97 403.58,219.94 405.81,219.89 408.04,219.82 410.27,219.74 412.5,219.65 412.5,264.51 410.27,263.04 408.04,261.59 405.81,260.14 403.58,258.71 401.35,257.29 399.12,255.9 396.89,254.52 394.66,253.17 392.43,251.84 390.2,250.55 387.97,249.28 385.74,248.06 383.51,246.87 381.28,245.73 379.05,244.65 376.82,243.61 374.59,242.64 372.36,241.73 370.13,240.89 367.9,240.12 365.67,239.42 363.44,238.8 361.21,238.24 358.98,237.76 356.75,237.34 354.52,236.98 352.29,236.67 350.06,236.42 347.83,236.22 345.6,236.06 343.37,235.93 341.14,235.84 338.91,235.78 336.68,235.75 334.45,235.74 332.22,235.75 329.99,235.78 327.76,235.83 325.53,235.89 323.3,235.97" class="band"/>
<line x1="319.3" x2="416.9" y1="226.75" y2="226.75" class="hl"/>
<line x1="323.3" y1="214.48" x2="412.5" y2="242.08" class="rl"/>
</g>
<line x1="315.7" x2="319.3" y1="188.6" y2="188.6" class="tk"/>
<text x="312.5" y="193" class="yl">1.0</text>
<line x1="315.7" x2="319.3" y1="207.67" y2="207.67" class="tk"/>
<text x="312.5" y="212.07" class="yl">0.5</text>
<line x1="315.7" x2="319.3" y1="226.75" y2="226.75" class="tk"/>
<text x="312.5" y="231.15" class="yl">0.0</text>
<line x1="315.7" x2="319.3" y1="245.82" y2="245.82" class="tk"/>
<text x="312.5" y="250.22" class="yl">-0.5</text>
<line x1="315.7" x2="319.3" y1="264.9" y2="264.9" class="tk"/>
<text x="312.5" y="269.3" class="yl">-1.0</text>
<line x1="335.79" x2="335.79" y1="268.4" y2="272.6" class="tk"/>
<text x="335.79" y="284.3" class="xl">25</text>
<line x1="363.26" x2="363.26" y1="268.4" y2="272.6" class="tk"/>
<text x="363.26" y="284.3" class="xl">50</text>
<line x1="390.74" x2="390.74" y1="268.4" y2="272.6" class="tk"/>
<text x="390.74" y="284.3" class="xl">75</text>
<defs><clipPath id="c8"><rect x="452.2" y="174.7" width="97.6" height="93.2"/></clipPath></defs>
<rect x="452.2" y="152.6" width="97.6" height="24.1" fill="#D9D9D9"/>
<text x="502.7" y="167.7" class="st" textLength="42.2" lengthAdjust="spacingAndGlyphs">TG 54:6</text>
<rect x="452.2" y="174.7" width="97.6" height="93.2" fill="#EBEBEB"/>
<g clip-path="url(#c8)">
<line x1="452.2" x2="549.8" y1="248.55" y2="248.55" class="gm"/>
<line x1="452.2" x2="549.8" y1="226.05" y2="226.05" class="gm"/>
<line x1="452.2" x2="549.8" y1="203.55" y2="203.55" class="gm"/>
<line x1="452.2" x2="549.8" y1="181.05" y2="181.05" class="gm"/>
<line x1="454.95" x2="454.95" y1="174.7" y2="267.9" class="gm"/>
<line x1="482.43" x2="482.43" y1="174.7" y2="267.9" class="gm"/>
<line x1="509.9" x2="509.9" y1="174.7" y2="267.9" class="gm"/>
<line x1="537.38" x2="537.38" y1="174.7" y2="267.9" class="gm"/>
<line x1="452.2" x2="549.8" y1="192.3" y2="192.3" class="gM"/>
<line x1="452.2" x2="549.8" y1="214.8" y2="214.8" class="gM"/>
<line x1="452.2" x2="549.8" y1="237.3" y2="237.3" class="gM"/>
<line x1="452.2" x2="549.8" y1="259.8" y2="259.8" class="gM"/>
<line x1="468.69" x2="468.69" y1="174.7" y2="267.9" class="gM"/>
<line x1="496.16" x2="496.16" y1="174.7" y2="267.9" class="gM"/>
<line x1="523.64" x2="523.64" y1="174.7" y2="267.9" class="gM"/>
<circle cx="476" cy="179.1" r="2.45" fill="#000000"/>
<circle cx="456.4" cy="184.3" r="2.45" fill="#000000"/>
<circle cx="523.6" cy="183.9" r="2.45" fill="#000000"/>
<circle cx="458.6" cy="194.7" r="2.45" fill="#FF1493"/>
<circle cx="545.1" cy="195.6" r="2.45" fill="#4070FF"/>
<circle cx="513.2" cy="206.5" r="2.45" fill="#4070FF"/>
<circle cx="501.4" cy="210" r="2.45" fill="#000000"/>
<circle cx="490.6" cy="221.5" r="2.45" fill="#000000"/>
<circle cx="457.7" cy="223.7" r="2.45" fill="#FF1493"/>
<circle cx="499.3" cy="224.5" r="2.45" fill="#FF1493"/>
<circle cx="516.7" cy="227.6" r="2.45" fill="#4070FF"/>
<circle cx="524.9" cy="235.2" r="2.45" fill="#4070FF"/>
<circle cx="519.3" cy="235.6" r="2.45" fill="#FF1493"/>
<circle cx="457.1" cy="241" r="2.45" fill="#FF1493"/>
<circle cx="529.3" cy="242.6" r="2.45" fill="#FF1493"/>
<circle cx="495.3" cy="246.9" r="2.45" fill="#4070FF"/>
<circle cx="529.3" cy="264.1" r="2.45" fill="#4070FF"/>
<polygon points="456.4,185.76 458.62,187.08 460.83,188.38 463.05,189.67 465.27,190.94 467.49,192.19 469.7,193.41 471.92,194.61 474.14,195.79 476.36,196.93 478.57,198.03 480.79,199.09 483.01,200.11 485.23,201.07 487.44,201.98 489.66,202.84 491.88,203.62 494.1,204.33 496.31,204.97 498.53,205.54 500.75,206.02 502.97,206.43 505.19,206.76 507.4,207.01 509.62,207.2 511.84,207.32 514.06,207.37 516.27,207.38 518.49,207.33 520.71,207.24 522.92,207.1 525.14,206.93 527.36,206.73 529.58,206.5 531.8,206.24 534.01,205.97 536.23,205.67 538.45,205.35 540.66,205.02 542.88,204.67 545.1,204.31 545.1,252.85 542.88,251.52 540.66,250.2 538.45,248.89 536.23,247.61 534.01,246.34 531.8,245.09 529.58,243.86 527.36,242.66 525.14,241.49 522.92,240.35 520.71,239.25 518.49,238.19 516.27,237.17 514.06,236.2 511.84,235.29 509.62,234.44 507.4,233.66 505.19,232.94 502.97,232.3 500.75,231.74 498.53,231.25 496.31,230.85 494.1,230.52 491.88,230.26 489.66,230.07 487.44,229.95 485.23,229.9 483.01,229.89 480.79,229.94 478.57,230.03 476.36,230.17 474.14,230.34 471.92,230.54 469.7,230.77 467.49,231.02 465.27,231.3 463.05,231.6 460.83,231.92 458.62,232.25 456.4,232.6" class="band"/>
<line x1="452.2" x2="549.8" y1="214.8" y2="214.8" class="hl"/>
<line x1="456.4" y1="209.18" x2="545.1" y2="228.58" class="rl dash"/>
</g>
<line x1="448.6" x2="452.2" y1="192.3" y2="192.3" class="tk"/>
<text x="445.4" y="196.7" class="yl">0.5</text>
<line x1="448.6" x2="452.2" y1="214.8" y2="214.8" class="tk"/>
<text x="445.4" y="219.2" class="yl">0.0</text>
<line x1="448.6" x2="452.2" y1="237.3" y2="237.3" class="tk"/>
<text x="445.4" y="241.7" class="yl">-0.5</text>
<line x1="448.6" x2="452.2" y1="259.8" y2="259.8" class="tk"/>
<text x="445.4" y="264.2" class="yl">-1.0</text>
<line x1="468.69" x2="468.69" y1="267.9" y2="272.1" class="tk"/>
<text x="468.69" y="283.8" class="xl">25</text>
<line x1="496.16" x2="496.16" y1="267.9" y2="272.1" class="tk"/>
<text x="496.16" y="283.8" class="xl">50</text>
<line x1="523.64" x2="523.64" y1="267.9" y2="272.1" class="tk"/>
<text x="523.64" y="283.8" class="xl">75</text>
<defs><clipPath id="c9"><rect x="585" y="174.5" width="96.9" height="93.6"/></clipPath></defs>
<rect x="585" y="152.5" width="96.9" height="24" fill="#D9D9D9"/>
<text x="634" y="167.7" class="st" textLength="42.6" lengthAdjust="spacingAndGlyphs">TG 54:7</text>
<rect x="585" y="174.5" width="96.9" height="93.6" fill="#EBEBEB"/>
<g clip-path="url(#c9)">
<line x1="585" x2="681.9" y1="261.82" y2="261.82" class="gm"/>
<line x1="585" x2="681.9" y1="243.38" y2="243.38" class="gm"/>
<line x1="585" x2="681.9" y1="224.93" y2="224.93" class="gm"/>
<line x1="585" x2="681.9" y1="206.47" y2="206.47" class="gm"/>
<line x1="585" x2="681.9" y1="188.03" y2="188.03" class="gm"/>
<line x1="587.73" x2="587.73" y1="174.5" y2="268.1" class="gm"/>
<line x1="615.01" x2="615.01" y1="174.5" y2="268.1" class="gm"/>
<line x1="642.29" x2="642.29" y1="174.5" y2="268.1" class="gm"/>
<line x1="669.57" x2="669.57" y1="174.5" y2="268.1" class="gm"/>
<line x1="585" x2="681.9" y1="178.8" y2="178.8" class="gM"/>
<line x1="585" x2="681.9" y1="197.25" y2="197.25" class="gM"/>
<line x1="585" x2="681.9" y1="215.7" y2="215.7" class="gM"/>
<line x1="585" x2="681.9" y1="234.15" y2="234.15" class="gM"/>
<line x1="585" x2="681.9" y1="252.6" y2="252.6" class="gM"/>
<line x1="601.37" x2="601.37" y1="174.5" y2="268.1" class="gM"/>
<line x1="628.65" x2="628.65" y1="174.5" y2="268.1" class="gM"/>
<line x1="655.93" x2="655.93" y1="174.5" y2="268.1" class="gM"/>
<circle cx="588.8" cy="181.7" r="2.45" fill="#000000"/>
<circle cx="608.1" cy="180" r="2.45" fill="#000000"/>
<circle cx="656" cy="179.1" r="2.45" fill="#000000"/>
<circle cx="591" cy="194.1" r="2.45" fill="#FF1493"/>
<circle cx="645.7" cy="195.4" r="2.45" fill="#4070FF"/>
<circle cx="634" cy="199.3" r="2.45" fill="#000000"/>
<circle cx="677.5" cy="203.4" r="2.45" fill="#4070FF"/>
<circle cx="590.1" cy="219.3" r="2.45" fill="#FF1493"/>
<circle cx="623.1" cy="223.2" r="2.45" fill="#000000"/>
<circle cx="631.6" cy="225.4" r="2.45" fill="#FF1493"/>
<circle cx="648.8" cy="224.7" r="2.45" fill="#4070FF"/>
<circle cx="651.8" cy="224.5" r="2.45" fill="#FF1493"/>
<circle cx="657.7" cy="228.2" r="2.45" fill="#4070FF"/>
<circle cx="627.5" cy="236.7" r="2.45" fill="#4070FF"/>
<circle cx="661.6" cy="240.8" r="2.45" fill="#FF1493"/>
<circle cx="589.4" cy="262.8" r="2.45" fill="#FF1493"/>
<circle cx="661.8" cy="264.1" r="2.45" fill="#4070FF"/>
<polygon points="588.8,185.09 591.02,186.31 593.23,187.51 595.45,188.69 597.67,189.86 599.89,191 602.11,192.12 604.32,193.21 606.54,194.27 608.76,195.3 610.97,196.28 613.19,197.23 615.41,198.12 617.63,198.96 619.85,199.74 622.06,200.45 624.28,201.09 626.5,201.65 628.71,202.14 630.93,202.54 633.15,202.86 635.37,203.09 637.59,203.24 639.8,203.31 642.02,203.31 644.24,203.23 646.45,203.09 648.67,202.88 650.89,202.62 653.11,202.32 655.33,201.97 657.54,201.58 659.76,201.15 661.98,200.7 664.19,200.21 666.41,199.71 668.63,199.18 670.85,198.63 673.07,198.06 675.28,197.48 677.5,196.88 677.5,249.42 675.28,248.18 673.07,246.97 670.85,245.76 668.63,244.58 666.41,243.41 664.19,242.27 661.98,241.15 659.76,240.06 657.54,239 655.33,237.97 653.11,236.98 650.89,236.04 648.67,235.15 646.45,234.31 644.24,233.53 642.02,232.82 639.8,232.18 637.59,231.61 635.37,231.12 633.15,230.72 630.93,230.4 628.71,230.17 626.5,230.02 624.28,229.95 622.06,229.95 619.85,230.03 617.63,230.17 615.41,230.37 613.19,230.63 610.97,230.94 608.76,231.29 606.54,231.68 604.32,232.1 602.11,232.56 599.89,233.04 597.67,233.55 595.45,234.08 593.23,234.63 591.02,235.19 588.8,235.78" class="band"/>
<line x1="585" x2="681.9" y1="215.7" y2="215.7" class="hl"/>
<line x1="588.8" y1="210.43" x2="677.5" y2="223.15" class="rl dash"/>
</g>
<line x1="581.4" x2="585" y1="178.8" y2="178.8" class="tk"/>
<text x="578.2" y="183.2" class="yl">1.0</text>
<line x1="581.4" x2="585" y1="197.25" y2="197.25" class="tk"/>
<text x="578.2" y="201.65" class="yl">0.5</text>
<line x1="581.4" x2="585" y1="215.7" y2="215.7" class="tk"/>
<text x="578.2" y="220.1" class="yl">0.0</text>
<line x1="581.4" x2="585" y1="234.15" y2="234.15" class="tk"/>
<text x="578.2" y="238.55" class="yl">-0.5</text>
<line x1="581.4" x2="585" y1="252.6" y2="252.6" class="tk"/>
<text x="578.2" y="257" class="yl">-1.0</text>
<line x1="601.37" x2="601.37" y1="268.1" y2="272.3" class="tk"/>
<text x="601.37" y="284" class="xl">25</text>
<line x1="628.65" x2="628.65" y1="268.1" y2="272.3" class="tk"/>
<text x="628.65" y="284" class="xl">50</text>
<line x1="655.93" x2="655.93" y1="268.1" y2="272.3" class="tk"/>
<text x="655.93" y="284" class="xl">75</text>
<defs><clipPath id="c10"><rect x="54.15" y="317.8" width="97.6" height="93"/></clipPath></defs>
<rect x="54.15" y="295.2" width="97.6" height="24.6" fill="#D9D9D9"/>
<text x="102.95" y="310.7" class="st" textLength="42.5" lengthAdjust="spacingAndGlyphs">TG 56:6</text>
<rect x="54.15" y="317.8" width="97.6" height="93" fill="#EBEBEB"/>
<g clip-path="url(#c10)">
<line x1="54.15" x2="151.75" y1="392.6" y2="392.6" class="gm"/>
<line x1="54.15" x2="151.75" y1="372.6" y2="372.6" class="gm"/>
<line x1="54.15" x2="151.75" y1="352.6" y2="352.6" class="gm"/>
<line x1="54.15" x2="151.75" y1="332.6" y2="332.6" class="gm"/>
<line x1="56.9" x2="56.9" y1="317.8" y2="410.8" class="gm"/>
<line x1="84.38" x2="84.38" y1="317.8" y2="410.8" class="gm"/>
<line x1="111.85" x2="111.85" y1="317.8" y2="410.8" class="gm"/>
<line x1="139.33" x2="139.33" y1="317.8" y2="410.8" class="gm"/>
<line x1="54.15" x2="151.75" y1="322.6" y2="322.6" class="gM"/>
<line x1="54.15" x2="151.75" y1="342.6" y2="342.6" class="gM"/>
<line x1="54.15" x2="151.75" y1="362.6" y2="362.6" class="gM"/>
<line x1="54.15" x2="151.75" y1="382.6" y2="382.6" class="gM"/>
<line x1="54.15" x2="151.75" y1="402.6" y2="402.6" class="gM"/>
<line x1="70.64" x2="70.64" y1="317.8" y2="410.8" class="gM"/>
<line x1="98.11" x2="98.11" y1="317.8" y2="410.8" class="gM"/>
<line x1="125.59" x2="125.59" y1="317.8" y2="410.8" class="gM"/>
<circle cx="77.6" cy="322" r="2.45" fill="#000000"/>
<circle cx="58.4" cy="338" r="2.45" fill="#000000"/>
<circle cx="115" cy="342.6" r="2.45" fill="#4070FF"/>
<circle cx="125.4" cy="342.6" r="2.45" fill="#000000"/>
<circle cx="103.4" cy="350.9" r="2.45" fill="#000000"/>
<circle cx="59.1" cy="357.8" r="2.45" fill="#FF1493"/>
<circle cx="60.8" cy="361.7" r="2.45" fill="#FF1493"/>
<circle cx="146.9" cy="358" r="2.45" fill="#4070FF"/>
<circle cx="101.3" cy="361.5" r="2.45" fill="#FF1493"/>
<circle cx="59.5" cy="368.3" r="2.45" fill="#FF1493"/>
<circle cx="118.2" cy="366.5" r="2.45" fill="#4070FF"/>
<circle cx="92.6" cy="375" r="2.45" fill="#000000"/>
<circle cx="121.3" cy="379.3" r="2.45" fill="#FF1493"/>
<circle cx="97.1" cy="383.9" r="2.45" fill="#4070FF"/>
<circle cx="127.1" cy="386.3" r="2.45" fill="#4070FF"/>
<circle cx="131.3" cy="385.7" r="2.45" fill="#FF1493"/>
<circle cx="131.3" cy="406.7" r="2.45" fill="#4070FF"/>
<polygon points="58.4,332.8 60.61,334.09 62.82,335.38 65.04,336.65 67.25,337.91 69.46,339.15 71.67,340.38 73.89,341.58 76.1,342.76 78.31,343.91 80.53,345.03 82.74,346.12 84.95,347.18 87.16,348.19 89.38,349.16 91.59,350.08 93.8,350.95 96.01,351.75 98.22,352.5 100.44,353.19 102.65,353.81 104.86,354.37 107.07,354.87 109.29,355.31 111.5,355.69 113.71,356.02 115.92,356.3 118.14,356.54 120.35,356.73 122.56,356.89 124.78,357.01 126.99,357.1 129.2,357.17 131.41,357.22 133.62,357.24 135.84,357.25 138.05,357.24 140.26,357.21 142.47,357.17 144.69,357.12 146.9,357.06 146.9,396.37 144.69,395.06 142.47,393.76 140.26,392.48 138.05,391.2 135.84,389.94 133.62,388.7 131.41,387.48 129.2,386.28 126.99,385.1 124.78,383.95 122.56,382.82 120.35,381.73 118.14,380.68 115.92,379.66 113.71,378.7 111.5,377.78 109.29,376.91 107.07,376.1 104.86,375.35 102.65,374.67 100.44,374.04 98.22,373.48 96.01,372.98 93.8,372.55 91.59,372.16 89.38,371.84 87.16,371.56 84.95,371.32 82.74,371.13 80.53,370.97 78.31,370.85 76.1,370.75 73.89,370.69 71.67,370.64 69.46,370.62 67.25,370.61 65.04,370.62 62.82,370.65 60.61,370.69 58.4,370.74" class="band"/>
<line x1="54.15" x2="151.75" y1="362.6" y2="362.6" class="hl"/>
<line x1="58.4" y1="351.77" x2="146.9" y2="376.71" class="rl"/>
</g>
<line x1="50.55" x2="54.15" y1="322.6" y2="322.6" class="tk"/>
<text x="47.35" y="327" class="yl">1.0</text>
<line x1="50.55" x2="54.15" y1="342.6" y2="342.6" class="tk"/>
<text x="47.35" y="347" class="yl">0.5</text>
<line x1="50.55" x2="54.15" y1="362.6" y2="362.6" class="tk"/>
<text x="47.35" y="367" class="yl">0.0</text>
<line x1="50.55" x2="54.15" y1="382.6" y2="382.6" class="tk"/>
<text x="47.35" y="387" class="yl">-0.5</text>
<line x1="50.55" x2="54.15" y1="402.6" y2="402.6" class="tk"/>
<text x="47.35" y="407" class="yl">-1.0</text>
<line x1="70.64" x2="70.64" y1="410.8" y2="415" class="tk"/>
<text x="70.64" y="426.7" class="xl">25</text>
<line x1="98.11" x2="98.11" y1="410.8" y2="415" class="tk"/>
<text x="98.11" y="426.7" class="xl">50</text>
<line x1="125.59" x2="125.59" y1="410.8" y2="415" class="tk"/>
<text x="125.59" y="426.7" class="xl">75</text>
<defs><clipPath id="c11"><rect x="186.6" y="317.7" width="97.3" height="93.1"/></clipPath></defs>
<rect x="186.6" y="295.2" width="97.3" height="24.5" fill="#D9D9D9"/>
<text x="237" y="311" class="st" textLength="42.2" lengthAdjust="spacingAndGlyphs">TG 56:7</text>
<rect x="186.6" y="317.7" width="97.3" height="93.1" fill="#EBEBEB"/>
<g clip-path="url(#c11)">
<line x1="186.6" x2="283.9" y1="399.2" y2="399.2" class="gm"/>
<line x1="186.6" x2="283.9" y1="376.4" y2="376.4" class="gm"/>
<line x1="186.6" x2="283.9" y1="353.6" y2="353.6" class="gm"/>
<line x1="186.6" x2="283.9" y1="330.8" y2="330.8" class="gm"/>
<line x1="189.34" x2="189.34" y1="317.7" y2="410.8" class="gm"/>
<line x1="216.73" x2="216.73" y1="317.7" y2="410.8" class="gm"/>
<line x1="244.13" x2="244.13" y1="317.7" y2="410.8" class="gm"/>
<line x1="271.52" x2="271.52" y1="317.7" y2="410.8" class="gm"/>
<line x1="186.6" x2="283.9" y1="319.4" y2="319.4" class="gM"/>
<line x1="186.6" x2="283.9" y1="342.2" y2="342.2" class="gM"/>
<line x1="186.6" x2="283.9" y1="365" y2="365" class="gM"/>
<line x1="186.6" x2="283.9" y1="387.8" y2="387.8" class="gM"/>
<line x1="203.04" x2="203.04" y1="317.7" y2="410.8" class="gM"/>
<line x1="230.43" x2="230.43" y1="317.7" y2="410.8" class="gM"/>
<line x1="257.82" x2="257.82" y1="317.7" y2="410.8" class="gM"/>
<circle cx="190.8" cy="323.5" r="2.45" fill="#000000"/>
<circle cx="209.9" cy="322.2" r="2.45" fill="#000000"/>
<circle cx="257.7" cy="327.6" r="2.45" fill="#000000"/>
<circle cx="279.5" cy="346.1" r="2.45" fill="#4070FF"/>
<circle cx="192.7" cy="351.1" r="2.45" fill="#FF1493"/>
<circle cx="247.5" cy="353.5" r="2.45" fill="#4070FF"/>
<circle cx="235.8" cy="354.8" r="2.45" fill="#000000"/>
<circle cx="190.8" cy="362.8" r="2.45" fill="#FF1493"/>
<circle cx="191.4" cy="365.7" r="2.45" fill="#FF1493"/>
<circle cx="224.9" cy="366.7" r="2.45" fill="#000000"/>
<circle cx="233.4" cy="367.2" r="2.45" fill="#FF1493"/>
<circle cx="229.3" cy="375" r="2.45" fill="#4070FF"/>
<circle cx="250.8" cy="377.6" r="2.45" fill="#4070FF"/>
<circle cx="259.3" cy="388.9" r="2.45" fill="#4070FF"/>
<circle cx="253.6" cy="392.6" r="2.45" fill="#FF1493"/>
<circle cx="263.4" cy="392" r="2.45" fill="#FF1493"/>
<circle cx="263.4" cy="407" r="2.45" fill="#4070FF"/>
<polygon points="190.8,326.35 193.02,327.9 195.24,329.44 197.45,330.97 199.67,332.47 201.89,333.96 204.11,335.43 206.32,336.87 208.54,338.29 210.76,339.67 212.98,341.02 215.19,342.33 217.41,343.6 219.63,344.82 221.84,345.99 224.06,347.11 226.28,348.16 228.5,349.14 230.72,350.06 232.93,350.9 235.15,351.68 237.37,352.38 239.59,353.01 241.8,353.57 244.02,354.06 246.24,354.5 248.46,354.88 250.67,355.21 252.89,355.49 255.11,355.73 257.32,355.94 259.54,356.11 261.76,356.25 263.98,356.36 266.19,356.45 268.41,356.52 270.63,356.57 272.85,356.61 275.06,356.63 277.28,356.64 279.5,356.63 279.5,401.98 277.28,400.41 275.06,398.85 272.85,397.31 270.63,395.78 268.41,394.27 266.19,392.78 263.98,391.31 261.76,389.86 259.54,388.44 257.32,387.05 255.11,385.69 252.89,384.37 250.67,383.09 248.46,381.85 246.24,380.67 244.02,379.54 241.8,378.48 239.59,377.48 237.37,376.54 235.15,375.68 232.93,374.89 230.72,374.17 228.5,373.53 226.28,372.95 224.06,372.44 221.84,371.99 219.63,371.59 217.41,371.25 215.19,370.96 212.98,370.71 210.76,370.5 208.54,370.32 206.32,370.17 204.11,370.05 201.89,369.96 199.67,369.88 197.45,369.82 195.24,369.79 193.02,369.76 190.8,369.75" class="band"/>
<line x1="186.6" x2="283.9" y1="365" y2="365" class="hl"/>
<line x1="190.8" y1="348.05" x2="279.5" y2="379.3" class="rl"/>
</g>
<line x1="183" x2="186.6" y1="319.4" y2="319.4" class="tk"/>
<text x="179.8" y="323.8" class="yl">1.0</text>
<line x1="183" x2="186.6" y1="342.2" y2="342.2" class="tk"/>
<text x="179.8" y="346.6" class="yl">0.5</text>
<line x1="183" x2="186.6" y1="365" y2="365" class="tk"/>
<text x="179.8" y="369.4" class="yl">0.0</text>
<line x1="183" x2="186.6" y1="387.8" y2="387.8" class="tk"/>
<text x="179.8" y="392.2" class="yl">-0.5</text>
<line x1="203.04" x2="203.04" y1="410.8" y2="415" class="tk"/>
<text x="203.04" y="426.7" class="xl">25</text>
<line x1="230.43" x2="230.43" y1="410.8" y2="415" class="tk"/>
<text x="230.43" y="426.7" class="xl">50</text>
<line x1="257.82" x2="257.82" y1="410.8" y2="415" class="tk"/>
<text x="257.82" y="426.7" class="xl">75</text>
<defs><clipPath id="c12"><rect x="319.2" y="317.8" width="96.9" height="93"/></clipPath></defs>
<rect x="319.2" y="295.2" width="96.9" height="24.6" fill="#D9D9D9"/>
<text x="366.25" y="310.7" class="st" textLength="42.7" lengthAdjust="spacingAndGlyphs">TG 56:8</text>
<rect x="319.2" y="317.8" width="96.9" height="93" fill="#EBEBEB"/>
<g clip-path="url(#c12)">
<line x1="319.2" x2="416.1" y1="395.03" y2="395.03" class="gm"/>
<line x1="319.2" x2="416.1" y1="371.3" y2="371.3" class="gm"/>
<line x1="319.2" x2="416.1" y1="347.57" y2="347.57" class="gm"/>
<line x1="319.2" x2="416.1" y1="323.83" y2="323.83" class="gm"/>
<line x1="321.93" x2="321.93" y1="317.8" y2="410.8" class="gm"/>
<line x1="349.21" x2="349.21" y1="317.8" y2="410.8" class="gm"/>
<line x1="376.49" x2="376.49" y1="317.8" y2="410.8" class="gm"/>
<line x1="403.77" x2="403.77" y1="317.8" y2="410.8" class="gm"/>
<line x1="319.2" x2="416.1" y1="335.7" y2="335.7" class="gM"/>
<line x1="319.2" x2="416.1" y1="359.43" y2="359.43" class="gM"/>
<line x1="319.2" x2="416.1" y1="383.17" y2="383.17" class="gM"/>
<line x1="319.2" x2="416.1" y1="406.9" y2="406.9" class="gM"/>
<line x1="335.57" x2="335.57" y1="317.8" y2="410.8" class="gM"/>
<line x1="362.85" x2="362.85" y1="317.8" y2="410.8" class="gM"/>
<line x1="390.13" x2="390.13" y1="317.8" y2="410.8" class="gM"/>
<circle cx="323.2" cy="325.2" r="2.45" fill="#000000"/>
<circle cx="342.3" cy="322.2" r="2.45" fill="#000000"/>
<circle cx="390.2" cy="333.5" r="2.45" fill="#000000"/>
<circle cx="368" cy="338.9" r="2.45" fill="#000000"/>
<circle cx="411.5" cy="340" r="2.45" fill="#4070FF"/>
<circle cx="324.1" cy="344.6" r="2.45" fill="#FF1493"/>
<circle cx="379.7" cy="346.5" r="2.45" fill="#4070FF"/>
<circle cx="325" cy="353.7" r="2.45" fill="#FF1493"/>
<circle cx="383" cy="357" r="2.45" fill="#4070FF"/>
<circle cx="357.1" cy="361.1" r="2.45" fill="#000000"/>
<circle cx="365.8" cy="364.3" r="2.45" fill="#FF1493"/>
<circle cx="323.4" cy="373.5" r="2.45" fill="#FF1493"/>
<circle cx="391.7" cy="381.5" r="2.45" fill="#4070FF"/>
<circle cx="395.8" cy="382.8" r="2.45" fill="#FF1493"/>
<circle cx="385.8" cy="388.3" r="2.45" fill="#FF1493"/>
<circle cx="361.5" cy="393.5" r="2.45" fill="#4070FF"/>
<circle cx="395.8" cy="406.7" r="2.45" fill="#4070FF"/>
<polygon points="323.2,324.66 325.41,326.09 327.62,327.51 329.82,328.92 332.03,330.31 334.24,331.67 336.44,333.02 338.65,334.34 340.86,335.63 343.07,336.89 345.27,338.12 347.48,339.3 349.69,340.44 351.9,341.53 354.11,342.57 356.31,343.55 358.52,344.46 360.73,345.31 362.94,346.08 365.14,346.78 367.35,347.41 369.56,347.96 371.76,348.43 373.97,348.84 376.18,349.17 378.39,349.45 380.59,349.66 382.8,349.82 385.01,349.93 387.22,350 389.43,350.03 391.63,350.02 393.84,349.99 396.05,349.92 398.25,349.83 400.46,349.72 402.67,349.59 404.88,349.44 407.09,349.27 409.29,349.1 411.5,348.9 411.5,396.18 409.29,394.73 407.09,393.29 404.88,391.87 402.67,390.46 400.46,389.07 398.25,387.7 396.05,386.36 393.84,385.03 391.63,383.74 389.43,382.47 387.22,381.24 385.01,380.05 382.8,378.91 380.59,377.81 378.39,376.76 376.18,375.78 373.97,374.86 371.76,374 369.56,373.22 367.35,372.51 365.14,371.87 362.94,371.32 360.73,370.83 358.52,370.42 356.31,370.08 354.11,369.8 351.9,369.58 349.69,369.41 347.48,369.29 345.27,369.22 343.07,369.18 340.86,369.19 338.65,369.22 336.44,369.28 334.24,369.37 332.03,369.48 329.82,369.61 327.62,369.75 325.41,369.92 323.2,370.09" class="band"/>
<line x1="319.2" x2="416.1" y1="359.43" y2="359.43" class="hl"/>
<line x1="323.2" y1="347.37" x2="411.5" y2="372.54" class="rl"/>
</g>
<line x1="315.6" x2="319.2" y1="335.7" y2="335.7" class="tk"/>
<text x="312.4" y="340.1" class="yl">0.5</text>
<line x1="315.6" x2="319.2" y1="359.43" y2="359.43" class="tk"/>
<text x="312.4" y="363.83" class="yl">0.0</text>
<line x1="315.6" x2="319.2" y1="383.17" y2="383.17" class="tk"/>
<text x="312.4" y="387.57" class="yl">-0.5</text>
<line x1="315.6" x2="319.2" y1="406.9" y2="406.9" class="tk"/>
<text x="312.4" y="411.3" class="yl">-1.0</text>
<line x1="335.57" x2="335.57" y1="410.8" y2="415" class="tk"/>
<text x="335.57" y="426.7" class="xl">25</text>
<line x1="362.85" x2="362.85" y1="410.8" y2="415" class="tk"/>
<text x="362.85" y="426.7" class="xl">50</text>
<line x1="390.13" x2="390.13" y1="410.8" y2="415" class="tk"/>
<text x="390.13" y="426.7" class="xl">75</text>
<defs><clipPath id="c13"><rect x="455" y="316.4" width="97.1" height="93.3"/></clipPath></defs>
<rect x="455" y="294.1" width="97.1" height="24.3" fill="#D9D9D9"/>
<text x="502.95" y="309.7" class="st" textLength="42.5" lengthAdjust="spacingAndGlyphs">TG 56:9</text>
<rect x="455" y="316.4" width="97.1" height="93.3" fill="#EBEBEB"/>
<g clip-path="url(#c13)">
<line x1="455" x2="552.1" y1="402.92" y2="402.92" class="gm"/>
<line x1="455" x2="552.1" y1="384.48" y2="384.48" class="gm"/>
<line x1="455" x2="552.1" y1="366.02" y2="366.02" class="gm"/>
<line x1="455" x2="552.1" y1="347.57" y2="347.57" class="gm"/>
<line x1="455" x2="552.1" y1="329.12" y2="329.12" class="gm"/>
<line x1="457.73" x2="457.73" y1="316.4" y2="409.7" class="gm"/>
<line x1="485.07" x2="485.07" y1="316.4" y2="409.7" class="gm"/>
<line x1="512.41" x2="512.41" y1="316.4" y2="409.7" class="gm"/>
<line x1="539.74" x2="539.74" y1="316.4" y2="409.7" class="gm"/>
<line x1="455" x2="552.1" y1="319.9" y2="319.9" class="gM"/>
<line x1="455" x2="552.1" y1="338.35" y2="338.35" class="gM"/>
<line x1="455" x2="552.1" y1="356.8" y2="356.8" class="gM"/>
<line x1="455" x2="552.1" y1="375.25" y2="375.25" class="gM"/>
<line x1="455" x2="552.1" y1="393.7" y2="393.7" class="gM"/>
<line x1="471.4" x2="471.4" y1="316.4" y2="409.7" class="gM"/>
<line x1="498.74" x2="498.74" y1="316.4" y2="409.7" class="gM"/>
<line x1="526.08" x2="526.08" y1="316.4" y2="409.7" class="gM"/>
<circle cx="459.3" cy="324.6" r="2.45" fill="#000000"/>
<circle cx="478.2" cy="329.3" r="2.45" fill="#000000"/>
<circle cx="460.8" cy="338.5" r="2.45" fill="#FF1493"/>
<circle cx="459.7" cy="343.7" r="2.45" fill="#FF1493"/>
<circle cx="515.8" cy="338.5" r="2.45" fill="#4070FF"/>
<circle cx="526.2" cy="340.2" r="2.45" fill="#000000"/>
<circle cx="504.3" cy="342.4" r="2.45" fill="#000000"/>
<circle cx="547.7" cy="344.8" r="2.45" fill="#4070FF"/>
<circle cx="501.9" cy="352.4" r="2.45" fill="#FF1493"/>
<circle cx="459.3" cy="363.5" r="2.45" fill="#FF1493"/>
<circle cx="493.6" cy="364.1" r="2.45" fill="#000000"/>
<circle cx="527.7" cy="366.3" r="2.45" fill="#4070FF"/>
<circle cx="522.1" cy="371.1" r="2.45" fill="#FF1493"/>
<circle cx="519.5" cy="382.8" r="2.45" fill="#4070FF"/>
<circle cx="497.5" cy="387" r="2.45" fill="#4070FF"/>
<circle cx="532.1" cy="402.4" r="2.45" fill="#4070FF"/>
<circle cx="532.1" cy="405.9" r="2.45" fill="#FF1493"/>
<polygon points="459.3,320.84 461.51,322.45 463.72,324.05 465.93,325.63 468.14,327.2 470.35,328.75 472.56,330.28 474.77,331.78 476.98,333.26 479.19,334.71 481.4,336.13 483.61,337.51 485.82,338.85 488.03,340.14 490.24,341.39 492.45,342.57 494.66,343.71 496.87,344.77 499.08,345.78 501.29,346.71 503.5,347.57 505.71,348.37 507.92,349.1 510.13,349.76 512.34,350.36 514.55,350.9 516.76,351.39 518.97,351.83 521.18,352.22 523.39,352.57 525.6,352.89 527.81,353.18 530.02,353.43 532.23,353.66 534.44,353.87 536.65,354.06 538.86,354.23 541.07,354.38 543.28,354.52 545.49,354.65 547.7,354.77 547.7,398.39 545.49,396.76 543.28,395.15 541.07,393.55 538.86,391.96 536.65,390.39 534.44,388.84 532.23,387.31 530.02,385.8 527.81,384.32 525.6,382.87 523.39,381.44 521.18,380.06 518.97,378.71 516.76,377.41 514.55,376.16 512.34,374.96 510.13,373.82 507.92,372.74 505.71,371.73 503.5,370.78 501.29,369.91 499.08,369.1 496.87,368.36 494.66,367.69 492.45,367.08 490.24,366.53 488.03,366.04 485.82,365.59 483.61,365.19 481.4,364.83 479.19,364.51 476.98,364.22 474.77,363.96 472.56,363.72 470.35,363.51 468.14,363.32 465.93,363.15 463.72,362.99 461.51,362.85 459.3,362.72" class="band"/>
<line x1="455" x2="552.1" y1="356.8" y2="356.8" class="hl"/>
<line x1="459.3" y1="341.78" x2="547.7" y2="376.58" class="rl"/>
</g>
<line x1="451.4" x2="455" y1="319.9" y2="319.9" class="tk"/>
<text x="448.2" y="324.3" class="yl">1.0</text>
<line x1="451.4" x2="455" y1="338.35" y2="338.35" class="tk"/>
<text x="448.2" y="342.75" class="yl">0.5</text>
<line x1="451.4" x2="455" y1="356.8" y2="356.8" class="tk"/>
<text x="448.2" y="361.2" class="yl">0.0</text>
<line x1="451.4" x2="455" y1="375.25" y2="375.25" class="tk"/>
<text x="448.2" y="379.65" class="yl">-0.5</text>
<line x1="451.4" x2="455" y1="393.7" y2="393.7" class="tk"/>
<text x="448.2" y="398.1" class="yl">-1.0</text>
<line x1="471.4" x2="471.4" y1="409.7" y2="413.9" class="tk"/>
<text x="471.4" y="425.6" class="xl">25</text>
<line x1="498.74" x2="498.74" y1="409.7" y2="413.9" class="tk"/>
<text x="498.74" y="425.6" class="xl">50</text>
<line x1="526.08" x2="526.08" y1="409.7" y2="413.9" class="tk"/>
<text x="526.08" y="425.6" class="xl">75</text>
<defs><clipPath id="c14"><rect x="585.5" y="319.3" width="97.5" height="93.6"/></clipPath></defs>
<rect x="585.5" y="297" width="97.5" height="24.3" fill="#D9D9D9"/>
<text x="633.9" y="312.4" class="st" textLength="42.8" lengthAdjust="spacingAndGlyphs">TG 58:9</text>
<rect x="585.5" y="319.3" width="97.5" height="93.6" fill="#EBEBEB"/>
<g clip-path="url(#c14)">
<line x1="585.5" x2="683" y1="404.77" y2="404.77" class="gm"/>
<line x1="585.5" x2="683" y1="373.02" y2="373.02" class="gm"/>
<line x1="585.5" x2="683" y1="341.27" y2="341.27" class="gm"/>
<line x1="588.24" x2="588.24" y1="319.3" y2="412.9" class="gm"/>
<line x1="615.69" x2="615.69" y1="319.3" y2="412.9" class="gm"/>
<line x1="643.14" x2="643.14" y1="319.3" y2="412.9" class="gm"/>
<line x1="670.59" x2="670.59" y1="319.3" y2="412.9" class="gm"/>
<line x1="585.5" x2="683" y1="325.4" y2="325.4" class="gM"/>
<line x1="585.5" x2="683" y1="357.15" y2="357.15" class="gM"/>
<line x1="585.5" x2="683" y1="388.9" y2="388.9" class="gM"/>
<line x1="601.97" x2="601.97" y1="319.3" y2="412.9" class="gM"/>
<line x1="629.42" x2="629.42" y1="319.3" y2="412.9" class="gM"/>
<line x1="656.87" x2="656.87" y1="319.3" y2="412.9" class="gM"/>
<circle cx="591.6" cy="325.4" r="2.45" fill="#FF1493"/>
<circle cx="609" cy="325.4" r="2.45" fill="#000000"/>
<circle cx="589.9" cy="330.9" r="2.45" fill="#000000"/>
<circle cx="678.3" cy="333" r="2.45" fill="#4070FF"/>
<circle cx="656.8" cy="334.6" r="2.45" fill="#000000"/>
<circle cx="646.4" cy="341.1" r="2.45" fill="#4070FF"/>
<circle cx="590.5" cy="354.1" r="2.45" fill="#FF1493"/>
<circle cx="623.8" cy="357.4" r="2.45" fill="#000000"/>
<circle cx="634.7" cy="356.3" r="2.45" fill="#000000"/>
<circle cx="649.9" cy="357.6" r="2.45" fill="#4070FF"/>
<circle cx="590.5" cy="362" r="2.45" fill="#FF1493"/>
<circle cx="632.7" cy="362.2" r="2.45" fill="#FF1493"/>
<circle cx="658.3" cy="366.7" r="2.45" fill="#4070FF"/>
<circle cx="652.5" cy="374.6" r="2.45" fill="#FF1493"/>
<circle cx="662.5" cy="377" r="2.45" fill="#FF1493"/>
<circle cx="628.3" cy="376.5" r="2.45" fill="#4070FF"/>
<circle cx="662.5" cy="408.5" r="2.45" fill="#4070FF"/>
<polygon points="589.9,323.45 592.11,324.78 594.32,326.1 596.53,327.41 598.74,328.7 600.95,329.97 603.16,331.22 605.37,332.45 607.58,333.66 609.79,334.83 612,335.98 614.21,337.09 616.42,338.17 618.63,339.2 620.84,340.18 623.05,341.11 625.26,341.98 627.47,342.8 629.68,343.55 631.89,344.23 634.1,344.85 636.31,345.41 638.52,345.89 640.73,346.32 642.94,346.69 645.15,347 647.36,347.26 649.57,347.47 651.78,347.64 653.99,347.77 656.2,347.87 658.41,347.93 660.62,347.97 662.83,347.99 665.04,347.98 667.25,347.96 669.46,347.91 671.67,347.86 673.88,347.78 676.09,347.7 678.3,347.6 678.3,389.06 676.09,387.72 673.88,386.39 671.67,385.06 669.46,383.76 667.25,382.47 665.04,381.19 662.83,379.94 660.62,378.7 658.41,377.49 656.2,376.31 653.99,375.16 651.78,374.04 649.57,372.96 647.36,371.93 645.15,370.94 642.94,370 640.73,369.12 638.52,368.29 636.31,367.53 634.1,366.84 631.89,366.21 629.68,365.65 627.47,365.15 625.26,364.71 623.05,364.34 620.84,364.02 618.63,363.75 616.42,363.54 614.21,363.36 612,363.22 609.79,363.12 607.58,363.05 605.37,363.01 603.16,362.99 600.95,362.99 598.74,363.01 596.53,363.06 594.32,363.11 592.11,363.18 589.9,363.26" class="band"/>
<line x1="585.5" x2="683" y1="357.15" y2="357.15" class="hl"/>
<line x1="589.9" y1="343.36" x2="678.3" y2="368.33" class="rl"/>
</g>
<line x1="581.9" x2="585.5" y1="325.4" y2="325.4" class="tk"/>
<text x="578.7" y="329.8" class="yl">1</text>
<line x1="581.9" x2="585.5" y1="357.15" y2="357.15" class="tk"/>
<text x="578.7" y="361.55" class="yl">0</text>
<line x1="581.9" x2="585.5" y1="388.9" y2="388.9" class="tk"/>
<text x="578.7" y="393.3" class="yl">-1</text>
<line x1="601.97" x2="601.97" y1="412.9" y2="417.1" class="tk"/>
<text x="601.97" y="428.8" class="xl">25</text>
<line x1="629.42" x2="629.42" y1="412.9" y2="417.1" class="tk"/>
<text x="629.42" y="428.8" class="xl">50</text>
<line x1="656.87" x2="656.87" y1="412.9" y2="417.1" class="tk"/>
<text x="656.87" y="428.8" class="xl">75</text>
<text class="xt" x="348.5" y="446.8" textLength="130" lengthAdjust="spacingAndGlyphs">Birthweight centile</text>
<text class="yt" transform="translate(13.3,221) rotate(-90)" textLength="438.5" lengthAdjust="spacingAndGlyphs">Myo-inositol response relative to control [=0], (log2-fold-change)</text>
</svg>
</body></html>
